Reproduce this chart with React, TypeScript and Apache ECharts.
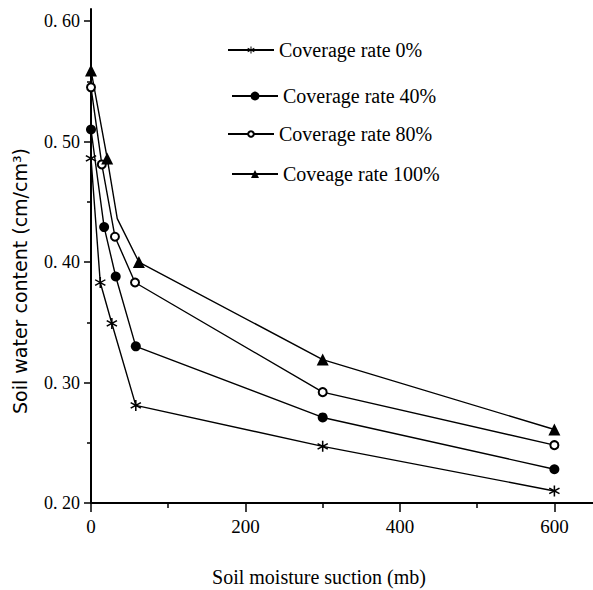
import React, { useEffect, useRef } from 'react';
import * as echarts from 'echarts';

const seriesNames = ['Coverage rate 0%', 'Coverage rate 40%', 'Coverage rate 80%', 'Coveage rate 100%'];
const suction0 = [0, 12, 27, 58, 300, 600];
const water0 = [0.486, 0.383, 0.349, 0.281, 0.247, 0.21];
const suction40 = [0, 17, 32, 58, 300, 600];
const water40 = [0.51, 0.429, 0.388, 0.33, 0.271, 0.228];
const suction80 = [0, 14, 31, 57, 300, 600];
const water80 = [0.545, 0.481, 0.421, 0.383, 0.292, 0.248];
const suction100 = [0, 21, 34, 62, 300, 600];
const water100 = [0.559, 0.486, 0.436, 0.4, 0.319, 0.261];
const marker100 = [true, true, false, true, true, true];
const xMajorTicks = [0, 200, 400, 600];
const xMinorTicks = [100, 300, 500];
const yMajorTicks = [0.2, 0.3, 0.4, 0.5, 0.6];
const yMinorTicks = [0.25, 0.35, 0.45, 0.55];

const STAR =
  'path://M8.7 0L11.3 0L11.3 20L8.7 20Z M17.97 3.87L19.27 6.12L2.03 16.13L0.73 13.88Z M0.73 6.12L2.03 3.87L19.27 13.88L17.97 16.13Z';

const pts = (xs: number[], ys: number[], flags?: boolean[]) =>
  xs.map((x, i) => (flags && !flags[i] ? { value: [x, ys[i]], symbol: 'none' } : { value: [x, ys[i]] }));

export default function App() {
  const ref = useRef<HTMLDivElement>(null);
  useEffect(() => {
    if (!ref.current) return;
    const chart = echarts.init(ref.current, undefined, { renderer: 'svg' });
    const lineStyle = { color: '#000', width: 1.4 };
    const serif = 'Liberation Serif';
    const legendText = { fontFamily: serif, fontSize: 20, color: '#000' };
    const legendPos = [
      { left: 227, top: 40, itemHeight: 9 },
      { left: 231, top: 86, itemHeight: 11 },
      { left: 227, top: 124, itemHeight: 7 },
      { left: 231, top: 164, itemHeight: 10 },
    ];
    chart.setOption({
      animation: false,
      backgroundColor: '#fff',
      grid: { left: 91, right: 0, top: 9, bottom: 87, outerBoundsMode: 'none' },
      legend: seriesNames.map((n, i) => ({
        data: [n],
        orient: 'horizontal',
        left: legendPos[i].left,
        top: legendPos[i].top,
        padding: 0,
        itemWidth: 46,
        itemHeight: legendPos[i].itemHeight,
        selectedMode: false,
        textStyle: legendText,
      })),
      xAxis: [
        {
          type: 'value',
          min: 0,
          max: 650,
          interval: 100,
          axisLine: { show: true, lineStyle: { color: '#000', width: 2 } },
          axisTick: { show: true, customValues: xMajorTicks, length: 9, lineStyle: { color: '#000', width: 1.5 } },
          axisLabel: { customValues: xMajorTicks, margin: 14, fontFamily: serif, fontSize: 19, color: '#000' },
          splitLine: { show: false },
        },
        {
          type: 'value',
          min: 0,
          max: 650,
          position: 'bottom',
          axisLine: { show: false },
          axisTick: { show: true, customValues: xMinorTicks, length: 5, lineStyle: { color: '#000', width: 1.5 } },
          axisLabel: { show: false },
          splitLine: { show: false },
        },
      ],
      yAxis: [
        {
          type: 'value',
          min: 0.2,
          max: 0.61,
          interval: 0.1,
          axisLine: { show: true, lineStyle: { color: '#000', width: 2 } },
          axisTick: { show: true, customValues: yMajorTicks, length: 7, lineStyle: { color: '#000', width: 1.5 } },
          axisLabel: {
            customValues: yMajorTicks,
            formatter: (v: number) => v.toFixed(2).replace('.', '. '),
            margin: 11,
            fontFamily: serif,
            fontSize: 18,
            color: '#000',
          },
          splitLine: { show: false },
        },
        {
          type: 'value',
          min: 0.2,
          max: 0.61,
          position: 'left',
          axisLine: { show: false },
          axisTick: { show: true, customValues: yMinorTicks, length: 4, lineStyle: { color: '#000', width: 1.5 } },
          axisLabel: { show: false },
          splitLine: { show: false },
        },
      ],
      graphic: [
        {
          type: 'text',
          x: 20,
          y: 281,
          rotation: Math.PI / 2,
          style: {
            text: 'Soil water content (cm/cm³)',
            fontFamily: 'DejaVu Sans',
            fontSize: 19,
            fill: '#000',
            align: 'center',
            verticalAlign: 'middle',
          },
        },
        {
          type: 'text',
          x: 319,
          y: 577,
          style: {
            text: 'Soil moisture suction (mb)',
            fontFamily: serif,
            fontSize: 20,
            fill: '#000',
            align: 'center',
            verticalAlign: 'middle',
          },
        },
      ],
      series: [
        {
          name: seriesNames[0],
          type: 'line',
          data: pts(suction0, water0),
          symbol: STAR,
          symbolSize: 11,
          lineStyle,
          itemStyle: { color: '#000' },
          emphasis: { disabled: true },
        },
        {
          name: seriesNames[1],
          type: 'line',
          data: pts(suction40, water40),
          symbol: 'circle',
          symbolSize: 10,
          lineStyle,
          itemStyle: { color: '#000' },
          emphasis: { disabled: true },
        },
        {
          name: seriesNames[2],
          type: 'line',
          data: pts(suction80, water80),
          symbol: 'circle',
          symbolSize: 8,
          lineStyle,
          itemStyle: { color: '#fff', borderColor: '#000', borderWidth: 2 },
          emphasis: { disabled: true },
        },
        {
          name: seriesNames[3],
          type: 'line',
          data: pts(suction100, water100, marker100),
          symbol: 'triangle',
          symbolSize: 12,
          lineStyle,
          itemStyle: { color: '#000' },
          emphasis: { disabled: true },
        },
      ],
    });
    return () => chart.dispose();
  }, []);
  return <div ref={ref} style={{ position: 'absolute', left: 0, top: 0, width: 593, height: 590 }} />;
}
